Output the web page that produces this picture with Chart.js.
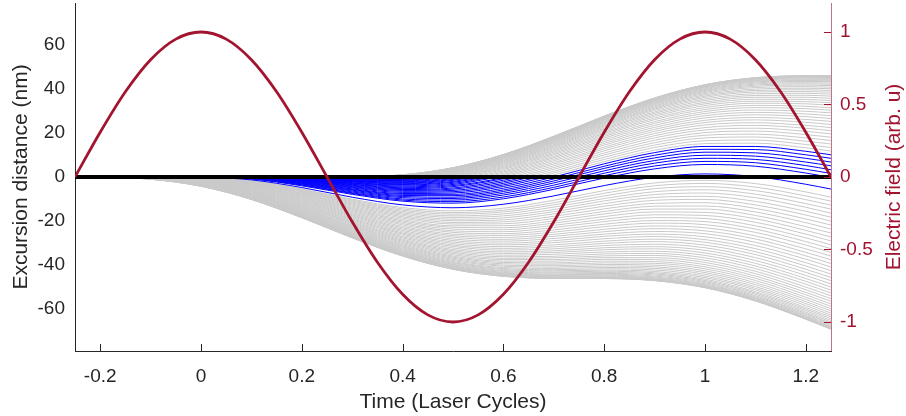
<!DOCTYPE html>
<html><head><meta charset="utf-8">
<script src="https://cdn.jsdelivr.net/npm/chart.js@4.4.1/dist/chart.umd.min.js"></script>
<style>html,body{margin:0;padding:0;background:#fff;}canvas{display:block;}</style>
</head><body>
<canvas id="c" width="906" height="416"></canvas>
<script>
// ---- tick values and labels ----
const xTickValues = [-0.2, 0, 0.2, 0.4, 0.6, 0.8, 1, 1.2];
const xTickLabels = ['-0.2', '0', '0.2', '0.4', '0.6', '0.8', '1', '1.2'];
const yTickValues = [-60, -40, -20, 0, 20, 40, 60];
const yTickLabels = ['-60', '-40', '-20', '0', '20', '40', '60'];
const fieldTickValues = [-1, -0.5, 0, 0.5, 1];
const fieldTickLabels = ['-1', '-0.5', '0', '0.5', '1'];

// ---- electric field (right axis) ----
const fieldTimes = [-0.25,-0.2,-0.15,-0.1,-0.05,0,0.05,0.1,0.15,0.2,0.25,0.3,0.35,0.4,0.45,0.5,0.55,0.6,0.65,0.7,0.75,0.8,0.85,0.9,0.95,1,1.05,1.1,1.15,1.2,1.25];
const fieldValues = [0,0.309,0.588,0.809,0.951,1,0.951,0.809,0.588,0.309,0,-0.309,-0.588,-0.809,-0.951,-1,-0.951,-0.809,-0.588,-0.309,0,0.309,0.588,0.809,0.951,1,0.951,0.809,0.588,0.309,0];

// ---- trajectories (excursion in nm) sampled at these times ----
const pathTimes = [-0.2,-0.1,0,0.1,0.2,0.3,0.4,0.5,0.6,0.7,0.8,0.9,1,1.1,1.2,1.25];

// electrons released before the field peak (grey)
const earlyBirth = [-0.25,-0.24,-0.23,-0.22,-0.21,-0.2,-0.19,-0.18,-0.17,-0.16,-0.15,-0.14,-0.13,-0.12,-0.11,-0.1,-0.09,-0.08,-0.07,-0.06,-0.05,-0.04,-0.03,-0.02,-0.01,
  -0.245,-0.235,-0.225,-0.215,-0.205,-0.195,-0.185,-0.175,-0.165,-0.155,-0.145,-0.135,-0.125,-0.115,-0.105,-0.095,-0.085,-0.075,-0.065,-0.055,-0.045,-0.035,-0.025,-0.015,-0.005];
const earlyPaths = [
[0,-1.0,-4.2,-10.2,-18.5,-27.7,-36.0,-42.0,-45.2,-46.1,-46.2,-47.2,-50.4,-56.4,-64.7,-69.3],
[0,-1.0,-4.2,-10.2,-18.5,-27.6,-35.9,-41.9,-45.1,-46.1,-46.1,-47.1,-50.3,-56.3,-64.6,-69.1],
[0,-0.9,-4.1,-10.1,-18.4,-27.5,-35.7,-41.7,-44.9,-45.8,-45.8,-46.7,-49.9,-55.9,-64.2,-68.7],
[0,-0.9,-4.0,-9.9,-18.2,-27.2,-35.4,-41.4,-44.5,-45.4,-45.4,-46.2,-49.4,-55.3,-63.5,-68.1],
[0,-0.8,-3.9,-9.7,-17.9,-26.9,-35.1,-40.9,-44.0,-44.8,-44.7,-45.5,-48.6,-54.5,-62.6,-67.1],
[null,-0.7,-3.7,-9.5,-17.6,-26.5,-34.6,-40.4,-43.4,-44.1,-43.9,-44.6,-47.6,-53.4,-61.5,-66.0],
[null,-0.6,-3.5,-9.2,-17.2,-26.0,-34.0,-39.7,-42.6,-43.2,-42.9,-43.6,-46.5,-52.2,-60.1,-64.5],
[null,-0.5,-3.3,-8.9,-16.7,-25.5,-33.3,-38.9,-41.7,-42.2,-41.8,-42.3,-45.1,-50.7,-58.5,-62.9],
[null,-0.4,-3.1,-8.5,-16.2,-24.8,-32.6,-38.0,-40.6,-41.0,-40.5,-40.9,-43.5,-49.0,-56.7,-61.0],
[null,-0.3,-2.8,-8.1,-15.7,-24.1,-31.7,-37.0,-39.5,-39.7,-39.1,-39.3,-41.8,-47.1,-54.7,-58.9],
[null,-0.2,-2.6,-7.7,-15.1,-23.4,-30.8,-36.0,-38.3,-38.3,-37.5,-37.6,-39.9,-45.1,-52.5,-56.6],
[null,-0.2,-2.3,-7.3,-14.5,-22.6,-29.8,-34.8,-37.0,-36.8,-35.9,-35.7,-37.9,-42.9,-50.1,-54.1],
[null,-0.1,-2.1,-6.8,-13.9,-21.8,-28.8,-33.6,-35.6,-35.2,-34.1,-33.8,-35.7,-40.5,-47.5,-51.5],
[null,0,-1.8,-6.4,-13.2,-20.9,-27.7,-32.3,-34.1,-33.6,-32.2,-31.7,-33.4,-38.0,-44.8,-48.7],
[null,0,-1.6,-5.9,-12.5,-20.0,-26.6,-31.0,-32.5,-31.8,-30.2,-29.4,-31.0,-35.3,-42.0,-45.7],
[null,null,-1.3,-5.4,-11.8,-19.1,-25.5,-29.6,-30.9,-29.9,-28.1,-27.1,-28.5,-32.6,-39.0,-42.6],
[null,null,-1.1,-5.0,-11.1,-18.1,-24.3,-28.2,-29.2,-28.0,-26.0,-24.8,-25.8,-29.7,-35.9,-39.4],
[null,null,-0.9,-4.5,-10.4,-17.2,-23.1,-26.7,-27.5,-26.1,-23.8,-22.3,-23.1,-26.8,-32.7,-36.0],
[null,null,-0.7,-4.0,-9.7,-16.2,-21.8,-25.2,-25.8,-24.1,-21.5,-19.8,-20.3,-23.7,-29.4,-32.6],
[null,null,-0.5,-3.6,-9.0,-15.2,-20.6,-23.7,-24.0,-22.0,-19.2,-17.2,-17.5,-20.6,-26.0,-29.1],
[null,null,-0.4,-3.2,-8.3,-14.3,-19.4,-22.2,-22.2,-20.0,-16.8,-14.6,-14.6,-17.5,-22.6,-25.5],
[null,null,-0.2,-2.8,-7.6,-13.3,-18.1,-20.7,-20.4,-17.9,-14.5,-12.0,-11.7,-14.3,-19.1,-21.9],
[null,null,-0.1,-2.4,-6.9,-12.3,-16.9,-19.2,-18.6,-15.8,-12.1,-9.3,-8.8,-11.1,-15.6,-18.3],
[null,null,-0.1,-2.0,-6.3,-11.4,-15.7,-17.7,-16.8,-13.7,-9.8,-6.7,-5.8,-7.8,-12.1,-14.6],
[null,null,0,-1.7,-5.7,-10.5,-14.5,-16.2,-15.1,-11.7,-7.4,-4.0,-2.9,-4.6,-8.6,-11.0],
[0,-1.0,-4.2,-10.2,-18.5,-27.7,-35.9,-42.0,-45.2,-46.1,-46.2,-47.1,-50.3,-56.4,-64.7,-69.2],
[0,-1.0,-4.1,-10.1,-18.4,-27.6,-35.8,-41.8,-45.0,-46.0,-46.0,-46.9,-50.1,-56.1,-64.4,-69.0],
[0,-0.9,-4.1,-10.0,-18.3,-27.4,-35.6,-41.6,-44.7,-45.6,-45.6,-46.5,-49.7,-55.6,-63.9,-68.4],
[0,-0.8,-3.9,-9.9,-18.0,-27.1,-35.3,-41.2,-44.3,-45.1,-45.1,-45.9,-49.0,-54.9,-63.1,-67.6],
[0,-0.8,-3.8,-9.6,-17.7,-26.7,-34.8,-40.7,-43.7,-44.5,-44.3,-45.1,-48.1,-54.0,-62.1,-66.6],
[null,-0.7,-3.6,-9.4,-17.4,-26.3,-34.3,-40.0,-43.0,-43.6,-43.5,-44.1,-47.1,-52.8,-60.8,-65.3],
[null,-0.6,-3.4,-9.1,-17.0,-25.7,-33.7,-39.3,-42.1,-42.7,-42.4,-43.0,-45.8,-51.4,-59.4,-63.7],
[null,-0.5,-3.2,-8.7,-16.5,-25.2,-32.9,-38.5,-41.2,-41.6,-41.2,-41.6,-44.3,-49.9,-57.6,-62.0],
[null,-0.4,-2.9,-8.3,-16.0,-24.5,-32.1,-37.5,-40.1,-40.4,-39.8,-40.1,-42.7,-48.1,-55.7,-60.0],
[null,-0.3,-2.7,-7.9,-15.4,-23.8,-31.3,-36.5,-38.9,-39.1,-38.3,-38.5,-40.9,-46.1,-53.6,-57.8],
[null,-0.2,-2.4,-7.5,-14.8,-23.0,-30.3,-35.4,-37.6,-37.6,-36.7,-36.7,-38.9,-44.0,-51.3,-55.4],
[null,-0.1,-2.2,-7.1,-14.2,-22.2,-29.3,-34.2,-36.3,-36.1,-35.0,-34.8,-36.8,-41.7,-48.8,-52.8],
[null,-0.1,-1.9,-6.6,-13.5,-21.3,-28.3,-33.0,-34.8,-34.4,-33.1,-32.7,-34.6,-39.3,-46.2,-50.1],
[null,0,-1.7,-6.1,-12.9,-20.5,-27.2,-31.6,-33.3,-32.7,-31.2,-30.6,-32.2,-36.7,-43.4,-47.2],
[null,0,-1.4,-5.7,-12.2,-19.5,-26.0,-30.3,-31.7,-30.9,-29.2,-28.3,-29.7,-34.0,-40.5,-44.2],
[null,null,-1.2,-5.2,-11.5,-18.6,-24.9,-28.9,-30.1,-29.0,-27.0,-26.0,-27.2,-31.2,-37.4,-41.0],
[null,null,-1.0,-4.7,-10.8,-17.6,-23.7,-27.4,-28.4,-27.0,-24.9,-23.5,-24.5,-28.2,-34.3,-37.7],
[null,null,-0.8,-4.3,-10.0,-16.7,-22.5,-26.0,-26.6,-25.1,-22.6,-21.0,-21.7,-25.2,-31.0,-34.3],
[null,null,-0.6,-3.8,-9.3,-15.7,-21.2,-24.5,-24.9,-23.0,-20.3,-18.5,-18.9,-22.2,-27.7,-30.9],
[null,null,-0.4,-3.4,-8.6,-14.7,-20.0,-22.9,-23.1,-21.0,-18.0,-15.9,-16.1,-19.0,-24.3,-27.3],
[null,null,-0.3,-3.0,-7.9,-13.8,-18.7,-21.4,-21.3,-18.9,-15.7,-13.3,-13.2,-15.9,-20.8,-23.7],
[null,null,-0.2,-2.6,-7.3,-12.8,-17.5,-19.9,-19.5,-16.8,-13.3,-10.6,-10.2,-12.7,-17.3,-20.1],
[null,null,-0.1,-2.2,-6.6,-11.9,-16.3,-18.4,-17.7,-14.8,-10.9,-8.0,-7.3,-9.4,-13.8,-16.5],
[null,null,0,-1.9,-6.0,-11.0,-15.1,-16.9,-15.9,-12.7,-8.6,-5.3,-4.4,-6.2,-10.3,-12.8],
[null,null,0,-1.6,-5.4,-10.1,-13.9,-15.4,-14.2,-10.6,-6.2,-2.7,-1.5,-3.0,-6.8,-9.2]
];

// long trajectories released just after the peak (blue)
const longBirth = [0.005,0.02,0.025,0.03,0.035,0.04,0.045,0.05];
const longPaths = [
[null,null,null,-1.3,-4.8,-9.2,-12.7,-14.0,-12.4,-8.6,-3.9,-0.1,1.4,0.2,-3.3,-5.5],
[null,null,null,-0.9,-4.0,-7.9,-11.0,-11.9,-9.9,-5.6,-0.5,3.7,5.7,4.9,1.8,-0.2],
[null,null,null,-0.8,-3.7,-7.5,-10.5,-11.2,-9.1,-4.7,0.6,5.0,7.1,6.5,3.5,1.6],
[null,null,null,-0.7,-3.5,-7.2,-10.0,-10.5,-8.2,-3.7,1.7,6.3,8.5,8.0,5.2,3.3],
[null,null,null,-0.6,-3.2,-6.8,-9.4,-9.8,-7.4,-2.7,2.8,7.5,9.9,9.5,6.8,5.1],
[null,null,null,-0.5,-3.0,-6.4,-8.9,-9.2,-6.6,-1.8,3.9,8.7,11.3,11.0,8.5,6.8],
[null,null,null,-0.4,-2.8,-6.0,-8.4,-8.5,-5.9,-0.9,4.9,9.9,12.6,12.5,10.1,8.5],
[null,null,null,-0.3,-2.6,-5.7,-7.9,-7.9,-5.1,0.0,6.0,11.1,13.9,13.9,11.7,10.1]
];

// short trajectories: blue until they come back to 0, grey afterwards
const shortBirth = [0.06,0.07,0.08,0.09,0.1,0.11,0.12,0.13,0.14,0.15,0.16,0.17,0.18,0.19,0.2,0.21,0.22,0.23,0.24,0.25,
  0.055,0.065,0.075,0.085,0.095,0.105,0.115,0.125,0.135,0.145,0.155,0.165,0.175,0.185,0.195,0.205,0.215,0.225,0.235,0.245];
const shortReturn = [0.67,0.642,0.616,0.591,0.566,0.543,0.52,0.497,0.476,0.454,0.433,0.412,0.391,0.37,0.35,0.33,0.3,0.28,0.27,0.25,
  0.685,0.654,0.629,0.603,0.578,0.555,0.532,0.509,0.487,0.465,0.444,0.4225,0.401,0.38,0.36,0.34,0.32,0.29,0.275,0.26];
const shortPaths = [
[null,null,null,-0.2,-2.2,-5.0,-7.0,-6.7,-3.6,1.8,8.0,13.4,16.5,16.8,14.8,13.4],
[null,null,null,-0.1,-1.8,-4.4,-6.1,-5.5,-2.2,3.5,10.0,15.6,19.0,19.5,17.8,16.6],
[null,null,null,-0.05,-1.5,-3.8,-5.3,-4.4,-0.8,5.1,11.9,17.8,21.4,22.2,20.8,19.6],
[null,null,null,-0.01,-1.2,-3.3,-4.5,-3.4,0.5,6.6,13.6,19.8,23.7,24.7,23.5,22.5],
[null,null,null,null,-1.0,-2.8,-3.7,-2.4,1.7,8.1,15.3,21.7,25.8,27.1,26.2,25.3],
[null,null,null,null,-0.7,-2.3,-3.1,-1.5,2.8,9.4,16.9,23.5,27.9,29.4,28.7,27.9],
[null,null,null,null,-0.6,-1.9,-2.5,-0.7,3.9,10.7,18.4,25.2,29.8,31.6,31.1,30.4],
[null,null,null,null,-0.4,-1.6,-1.9,0.1,4.8,11.9,19.8,26.8,31.6,33.6,33.3,32.7],
[null,null,null,null,-0.3,-1.3,-1.4,0.8,5.7,13.0,21.1,28.3,33.3,35.4,35.3,34.8],
[null,null,null,null,-0.2,-1.0,-0.9,1.4,6.5,14.0,22.2,29.6,34.8,37.1,37.2,36.8],
[null,null,null,null,-0.1,-0.8,-0.5,2.0,7.3,14.8,23.3,30.9,36.2,38.7,38.9,38.6],
[null,null,null,null,-0.06,-0.6,-0.2,2.5,7.9,15.6,24.2,31.9,37.4,40.0,40.4,40.2],
[null,null,null,null,-0.02,-0.4,0.1,2.9,8.5,16.3,25.0,32.9,38.5,41.3,41.8,41.6],
[null,null,null,null,0,-0.3,0.4,3.3,9.0,16.9,25.8,33.7,39.4,42.3,42.9,42.8],
[null,null,null,null,null,-0.2,0.6,3.6,9.4,17.4,26.4,34.4,40.2,43.2,43.9,43.8],
[null,null,null,null,null,-0.1,0.7,3.8,9.7,17.8,26.8,35.0,40.9,43.9,44.7,44.7],
[null,null,null,null,null,0,0.8,4.0,9.9,18.1,27.2,35.4,41.4,44.5,45.4,45.3],
[null,null,null,null,null,0,0.9,4.1,10.1,18.3,27.5,35.7,41.7,44.9,45.8,45.8],
[null,null,null,null,null,0,1.0,4.2,10.2,18.5,27.6,35.9,41.9,45.1,46.1,46.1],
[null,null,null,null,null,0,1.0,4.2,10.2,18.5,27.7,36.0,42.0,45.2,46.1,46.2],
[null,null,null,-0.3,-2.4,-5.4,-7.5,-7.3,-4.3,0.9,7.0,12.2,15.2,15.4,13.3,11.8],
[null,null,null,-0.2,-2.0,-4.7,-6.5,-6.1,-2.9,2.6,9.0,14.5,17.8,18.2,16.3,15.0],
[null,null,null,-0.1,-1.7,-4.1,-5.7,-5.0,-1.5,4.3,10.9,16.7,20.2,20.9,19.3,18.1],
[null,null,null,0,-1.4,-3.5,-4.9,-3.9,-0.2,5.9,12.8,18.8,22.5,23.5,22.2,21.1],
[null,null,null,0,-1.1,-3.0,-4.1,-2.9,1.1,7.4,14.5,20.8,24.8,26.0,24.9,23.9],
[null,null,null,null,-0.8,-2.6,-3.4,-2.0,2.3,8.8,16.1,22.6,26.9,28.3,27.5,26.6],
[null,null,null,null,-0.6,-2.1,-2.8,-1.1,3.4,10.1,17.7,24.4,28.9,30.5,29.9,29.2],
[null,null,null,null,-0.5,-1.8,-2.2,-0.3,4.4,11.3,19.1,26.1,30.7,32.6,32.2,31.5],
[null,null,null,null,-0.3,-1.4,-1.6,0.4,5.3,12.4,20.4,27.6,32.5,34.5,34.3,33.8],
[null,null,null,null,-0.2,-1.1,-1.1,1.1,6.2,13.5,21.7,29.0,34.0,36.3,36.3,35.8],
[null,null,null,null,-0.1,-0.9,-0.7,1.7,6.9,14.4,22.8,30.3,35.5,37.9,38.1,37.7],
[null,null,null,null,-0.1,-0.6,-0.3,2.2,7.6,15.3,23.8,31.4,36.8,39.4,39.7,39.4],
[null,null,null,null,0,-0.5,0,2.7,8.2,16.0,24.7,32.4,38.0,40.7,41.1,40.9],
[null,null,null,null,0,-0.3,0.2,3.1,8.7,16.6,25.4,33.3,39.0,41.8,42.4,42.2],
[null,null,null,null,0,-0.2,0.5,3.4,9.2,17.2,26.1,34.1,39.8,42.8,43.5,43.4],
[null,null,null,null,null,-0.1,0.7,3.7,9.5,17.6,26.6,34.7,40.6,43.6,44.3,44.3],
[null,null,null,null,null,0,0.8,3.9,9.8,18.0,27.0,35.2,41.1,44.2,45.1,45.0],
[null,null,null,null,null,0,0.9,4.0,10.0,18.2,27.3,35.6,41.6,44.7,45.6,45.6],
[null,null,null,null,null,0,0.9,4.1,10.1,18.4,27.6,35.8,41.8,45.0,45.9,46.0],
[null,null,null,null,null,0,1.0,4.2,10.2,18.5,27.7,35.9,42.0,45.2,46.1,46.2]
];

// ---- build datasets ----
const GREY = '#c9c9c9', BLUE = '#0000ff', RED = '#a2142f', INK = '#262626';
function series(points, color, width, order, axis) {
  return {data: points, borderColor: color, borderWidth: width, pointRadius: 0, pointHoverRadius: 0,
    fill: false, cubicInterpolationMode: 'monotone', yAxisID: axis || 'y', order: order};
}
const datasets = [];
earlyBirth.forEach((b, i) => {
  const pts = [{x: b, y: 0}];
  pathTimes.forEach((t, k) => { const v = earlyPaths[i][k]; if (v !== null && t > b) pts.push({x: t, y: v}); });
  datasets.push(series(pts, GREY, 1, 4));
});
shortBirth.forEach((b, i) => {
  const r = shortReturn[i];
  const blue = [{x: b, y: 0}], grey = [{x: r, y: 0}];
  pathTimes.forEach((t, k) => {
    const v = shortPaths[i][k];
    if (v === null || t <= b) return;
    if (t < r) blue.push({x: t, y: v}); else if (t > r) grey.push({x: t, y: v});
  });
  if (r - b > 0.03) { blue.push({x: r, y: 0}); datasets.push(series(blue, BLUE, 1, 3)); }
  datasets.push(series(grey, GREY, 1, 4));
});
longBirth.forEach((b, i) => {
  const pts = [{x: b, y: 0}];
  pathTimes.forEach((t, k) => { const v = longPaths[i][k]; if (v !== null && t > b) pts.push({x: t, y: v}); });
  datasets.push(series(pts, BLUE, 1, 3));
});
datasets.push(series([{x: -0.25, y: 0}, {x: 1.25, y: 0}], '#000000', 4, 2));
datasets.push(series(fieldTimes.map((t, i) => ({x: t, y: fieldValues[i]})), RED, 2.8, 1, 'y2'));

const FONT = '"Liberation Sans", Arial, Helvetica, sans-serif';
Chart.defaults.font.family = FONT;

const decor = {
  id: 'decor',
  afterDraw(chart) {
    const {ctx, chartArea, scales} = chart;
    ctx.save();
    ctx.lineWidth = 1;
    ctx.strokeStyle = INK;
    xTickValues.forEach(v => {
      const px = Math.round(scales.x.getPixelForValue(v)) + 0.5;
      ctx.beginPath(); ctx.moveTo(px, chartArea.bottom); ctx.lineTo(px, chartArea.bottom - 7); ctx.stroke();
    });
    ctx.strokeStyle = RED;
    fieldTickValues.forEach(v => {
      const py = Math.round(scales.y2.getPixelForValue(v)) + 0.5;
      ctx.beginPath(); ctx.moveTo(chartArea.right, py); ctx.lineTo(chartArea.right - 7, py); ctx.stroke();
    });
    ctx.translate(894, (chartArea.top + chartArea.bottom) / 2);
    ctx.rotate(-Math.PI / 2);
    ctx.fillStyle = RED;
    ctx.font = '21px ' + FONT;
    ctx.textAlign = 'center';
    ctx.textBaseline = 'middle';
    ctx.fillText('Electric field (arb. u)', 0, 0);
    ctx.restore();
  }
};

function fixVertical(s) { s.width = 75; s.paddingTop = 0; s.paddingBottom = 0; }

new Chart(document.getElementById('c'), {
  type: 'line',
  data: {datasets: datasets},
  plugins: [decor],
  options: {
    responsive: false, animation: false, devicePixelRatio: 1, events: [],
    layout: {padding: {top: 3, left: 0, right: 0, bottom: 0}},
    plugins: {legend: {display: false}, tooltip: {enabled: false}},
    scales: {
      x: {
        type: 'linear', min: -0.25, max: 1.25,
        afterBuildTicks: s => { s.ticks = xTickValues.map(v => ({value: v})); },
        afterFit: s => { s.height = 65; s.paddingLeft = 0; s.paddingRight = 0; },
        grid: {display: false, drawTicks: false},
        border: {display: true, color: INK, width: 1},
        ticks: {autoSkip: false, maxRotation: 0, padding: 14, color: INK, font: {size: 19},
          callback: (v, i) => xTickLabels[i]},
        title: {display: true, text: 'Time (Laser Cycles)', color: INK, font: {size: 21}, padding: {top: 0, bottom: 1.4}}
      },
      y: {
        type: 'linear', position: 'left', min: -79.2, max: 79.2,
        afterBuildTicks: s => { s.ticks = yTickValues.map(v => ({value: v})); },
        afterFit: fixVertical,
        grid: {display: false, drawTicks: false},
        border: {display: true, color: INK, width: 1},
        ticks: {autoSkip: false, padding: 10, color: INK, font: {size: 19}, callback: (v, i) => yTickLabels[i]},
        title: {display: true, text: 'Excursion distance (nm)', color: INK, font: {size: 21}, padding: {top: 8.4, bottom: 0}}
      },
      y2: {
        type: 'linear', position: 'right', min: -1.2, max: 1.2,
        afterBuildTicks: s => { s.ticks = fieldTickValues.map(v => ({value: v})); },
        afterFit: fixVertical,
        grid: {display: false, drawTicks: false},
        border: {display: true, color: 'rgba(162,20,47,0.6)', width: 1},
        ticks: {autoSkip: false, padding: 9, color: RED, font: {size: 19}, callback: (v, i) => fieldTickLabels[i]}
      }
    }
  }
});
</script>
</body></html>
